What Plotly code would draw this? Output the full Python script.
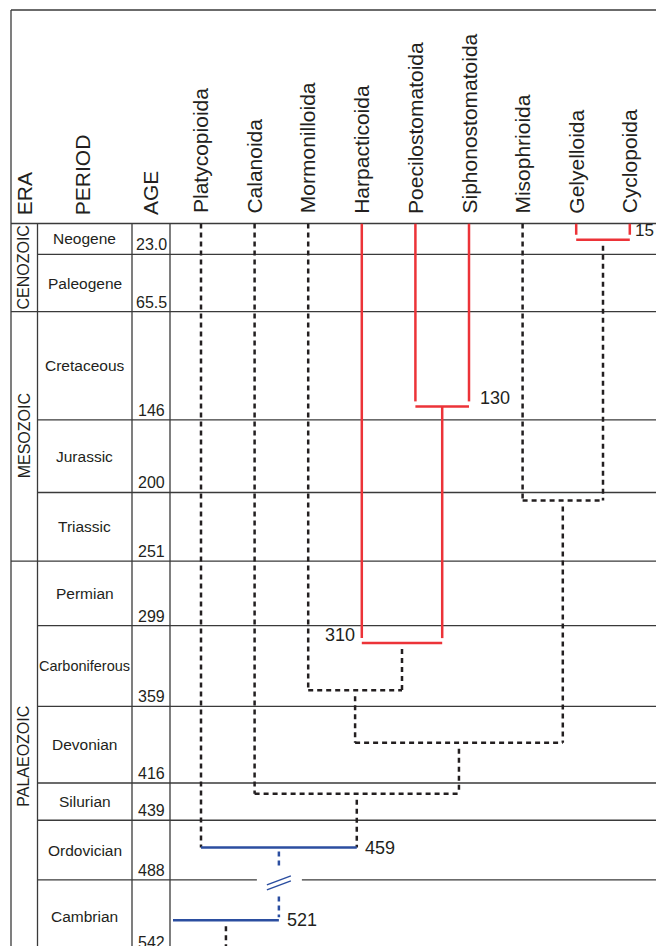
import plotly.graph_objects as go

# ---------------- data ----------------
taxa = ["Platycopioida", "Calanoida", "Mormonilloida", "Harpacticoida",
        "Poecilostomatoida", "Siphonostomatoida", "Misophrioida",
        "Gelyelloida", "Cyclopoida"]
tip_lineage = ["inferred", "inferred", "inferred", "fossil", "fossil",
               "fossil", "inferred", "fossil", "fossil"]

eras = ["CENOZOIC", "MESOZOIC", "PALAEOZOIC"]
era_base_age = [65.5, 251, 542]

periods = ["Neogene", "Paleogene", "Cretaceous", "Jurassic", "Triassic",
           "Permian", "Carboniferous", "Devonian", "Silurian", "Ordovician",
           "Cambrian"]
# base of each period as drawn (Ma); the Silurian base is drawn near 443.7 Ma
period_base_age = [23.0, 65.5, 146, 200, 251, 299, 359, 416, 443.7, 488, 542]
period_age_labels = ["23.0", "65.5", "146", "200", "251", "299", "359",
                     "416", "439", "488", "542"]

# internal nodes of the tree (children listed before parents)
node_names = ["GC", "PS", "HPS", "MGC", "MHPS", "MX", "CX", "PCX", "ROOT"]
node_children = [["Gelyelloida", "Cyclopoida"],
                 ["Poecilostomatoida", "Siphonostomatoida"],
                 ["Harpacticoida", "PS"],
                 ["Misophrioida", "GC"],
                 ["Mormonilloida", "HPS"],
                 ["MHPS", "MGC"],
                 ["Calanoida", "MX"],
                 ["Platycopioida", "CX"],
                 ["outgroup", "PCX"]]
node_age = [12, 136, 312, 206, 347, 386, 424, 464, 518]          # Ma, as drawn
node_bar_lineage = ["fossil", "fossil", "fossil", "inferred", "inferred",
                    "inferred", "inferred", "basal", "basal"]
node_stem_lineage = ["inferred", "fossil", "inferred", "inferred", "inferred",
                     "inferred", "inferred", "basal_inferred", "inferred"]
node_label = ["15", "130", "310", "", "", "", "", "459", "521"]

# ---------------- layout constants ----------------
W, H = 656, 946
TOP_Y, HEADER_Y = 10, 223.5
LEFT_X, COL_ERA, COL_PERIOD, COL_AGE = 11, 37.5, 132, 170
X_FIRST, X_STEP = 201, 53.6
Y_MAX = 537.2
PX_PER_MA = (H - HEADER_Y) / Y_MAX
X_RANGE = [-X_FIRST / X_STEP, (W - X_FIRST) / X_STEP]

FONT = "Liberation Sans, Arial, Helvetica, sans-serif"
TXT = "#231f20"
GRID = "#3a3a3a"
RED, BLACK, BLUE = "#ec3338", "#231f20", "#2b4ea0"

STYLE = {
    "fossil": dict(color=RED, dash="solid", start_gap=0, end_gap=5),
    "inferred": dict(color=BLACK, dash="5px,4px", start_gap=6, end_gap=0),
    "basal": dict(color=BLUE, dash="solid", start_gap=0, end_gap=0),
    "basal_inferred": dict(color=BLUE, dash="5px,4px", start_gap=4, end_gap=3),
}


def px_x(p):
    return p / W


def px_y(p):
    return 1 - p / H


def age_to_paper(a):
    # same mapping as the y axis, but usable for texts beyond the axis range
    return px_y(HEADER_Y + a * PX_PER_MA)


def px_to_xdata(p):
    return (p - X_FIRST) / X_STEP


# ---------------- tree geometry ----------------
xpos = {t: i for i, t in enumerate(taxa)}
age = {t: 0.0 for t in taxa}
stem = dict(zip(taxa, tip_lineage))
xpos["outgroup"] = px_to_xdata(COL_AGE + 3)
parent = {}

segs = {k: ([], []) for k in STYLE}


def add_seg(cls, x0, y0, x1, y1):
    xs, ys = segs[cls]
    xs += [x0, x1, None]
    ys += [y0, y1, None]


for name, kids, a, bar, st in zip(node_names, node_children, node_age,
                                  node_bar_lineage, node_stem_lineage):
    xs = [xpos[k] for k in kids]
    xpos[name] = (min(xs) + max(xs)) / 2
    age[name] = a
    stem[name] = st
    add_seg(bar, min(xs), a, max(xs), a)
    for k in kids:
        parent[k] = name
        if k == "outgroup":
            continue
        s = STYLE[stem[k]]
        y0 = age[k] + (0 if k in taxa else s["start_gap"] / PX_PER_MA)
        y1 = a - s["end_gap"] / PX_PER_MA
        add_seg(stem[k], xpos[k], y0, xpos[k], y1)

root = node_names[-1]
s = STYLE[stem[root]]
add_seg(stem[root], xpos[root], age[root] + s["start_gap"] / PX_PER_MA,
        xpos[root], Y_MAX + 5)

fig = go.Figure()
for cls, (xs, ys) in segs.items():
    if not xs:
        continue
    st = STYLE[cls]
    fig.add_trace(go.Scatter(x=xs, y=ys, mode="lines", hoverinfo="skip",
                             line=dict(color=st["color"], width=2.5,
                                       dash=st["dash"]),
                             showlegend=False))

# ---------------- table lines ----------------
shapes = []


def line_shape(x0, y0, x1, y1, xref="paper", yref="paper", width=1.3,
               color=GRID, layer="below"):
    return dict(type="line", xref=xref, yref=yref, x0=x0, y0=y0, x1=x1, y1=y1,
                line=dict(color=color, width=width), layer=layer)


shapes.append(line_shape(px_x(LEFT_X), px_y(TOP_Y), 1, px_y(TOP_Y), width=1.6))
shapes.append(line_shape(px_x(LEFT_X), px_y(TOP_Y), px_x(LEFT_X), 0))
shapes.append(line_shape(px_x(LEFT_X), px_y(HEADER_Y), 1, px_y(HEADER_Y)))
for cx in (COL_ERA, COL_PERIOD, COL_AGE):
    shapes.append(line_shape(px_x(cx), px_y(HEADER_Y), px_x(cx), 0))
for b in period_base_age:
    x0 = px_x(LEFT_X) if b in era_base_age else px_x(COL_ERA)
    shapes.append(line_shape(x0, b, 1, b, yref="y"))

# break marks where a basal inferred stem crosses a period boundary
for k, p in parent.items():
    if stem.get(k) != "basal_inferred":
        continue
    for b in period_base_age:
        if age[k] < b < age[p]:
            shapes.append(dict(type="rect", xref="x", yref="y",
                               xsizemode="pixel", ysizemode="pixel",
                               xanchor=xpos[k], yanchor=b,
                               x0=-22, x1=23, y0=-14, y1=12,
                               fillcolor="white", line=dict(width=0),
                               layer="above"))
            for dy in (0, -5):
                shapes.append(dict(type="line", xref="x", yref="y",
                                   xsizemode="pixel", ysizemode="pixel",
                                   xanchor=xpos[k], yanchor=b,
                                   x0=-12, x1=12, y0=-5 + dy, y1=4 + dy,
                                   line=dict(color=BLUE, width=1.5),
                                   layer="above"))

# ---------------- text ----------------
ann = []


def text(t, x, y, size, xref="paper", yref="paper", xanchor="center",
         yanchor="middle", angle=0, xshift=0, yshift=0):
    ann.append(dict(text=t, x=x, y=y, xref=xref, yref=yref, xanchor=xanchor,
                    yanchor=yanchor, textangle=angle, showarrow=False,
                    xshift=xshift, yshift=yshift,
                    font=dict(family=FONT, size=size, color=TXT)))


for t, cx in (("ERA", 24.7), ("PERIOD", 82.7), ("AGE", 150)):
    text(t, px_x(cx), px_y(217), 21, yanchor="bottom", angle=-90)
for t in taxa:
    text(t, xpos[t], px_y(215.5), 21, xref="x", yanchor="bottom", angle=-90)

prev = 0
for e, b in zip(eras, era_base_age):
    text(e, px_x(24), age_to_paper((prev + b) / 2), 16, angle=-90)
    prev = b

prev = 0
for p, b, lab in zip(periods, period_base_age, period_age_labels):
    size = 14.5 if len(p) > 11 else 15.5
    text(p, px_x(84.5), age_to_paper((prev + b) / 2), size)
    text(lab, px_x(151), age_to_paper(b), 16, yanchor="bottom", yshift=-1)
    prev = b

LABEL_PLACE = {"GC": "tip_right", "PS": "above_right", "HPS": "above_left",
               "PCX": "mid_right", "ROOT": "mid_right"}
for name, kids, lab in zip(node_names, node_children, node_label):
    if not lab:
        continue
    xs = [xpos[k] for k in kids]
    place = LABEL_PLACE[name]
    a = age[name]
    if place == "tip_right":
        text(lab, max(xs), a, 17, xref="x", yref="y", xanchor="left",
             yanchor="bottom", xshift=3, yshift=-2)
    elif place == "above_right":
        text(lab, max(xs), a, 18, xref="x", yref="y", xanchor="left",
             yanchor="bottom", xshift=9, yshift=-4)
    elif place == "above_left":
        text(lab, min(xs), a, 18, xref="x", yref="y", xanchor="right",
             yanchor="bottom", xshift=-5, yshift=-4)
    else:
        text(lab, max(xs), a, 18, xref="x", yref="y", xanchor="left",
             yanchor="middle", xshift=6)

fig.update_layout(
    width=W, height=H, autosize=False,
    margin=dict(l=0, r=0, t=0, b=0),
    paper_bgcolor="white", plot_bgcolor="white",
    xaxis=dict(range=X_RANGE, visible=False, fixedrange=True),
    yaxis=dict(range=[Y_MAX, 0], domain=[0, px_y(HEADER_Y)], visible=False,
               fixedrange=True),
    shapes=shapes, annotations=ann, showlegend=False,
)

fig.write_html("out.html", config={"displayModeBar": False},
               post_script="document.body.style.margin='0';"
                           "document.body.style.overflow='hidden';")
